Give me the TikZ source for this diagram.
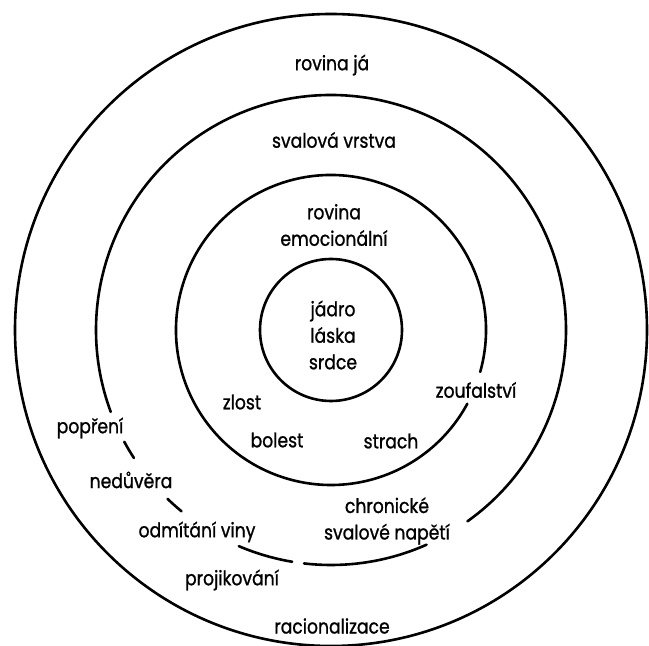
\documentclass[tikz,border=0pt]{standalone}
\usepackage{fontspec}
\setmainfont[FakeStretch=0.86,FakeBold=1]{Poppins}
\begin{document}
\begin{tikzpicture}[x=1pt,y=1pt,
  ring/.style={line width=2.6pt, line cap=round},
  lbl/.style={font=\fontsize{20}{26.5}\selectfont, inner sep=0pt, align=center}]
\useasboundingbox (0,0) rectangle (649,646);
% centre (image 331,330)
\coordinate (O) at (331,316);
% outer ring
\draw[ring] (O) circle (316pt);
% inner core ring
\draw[ring] (O) circle (71pt);
% emotional ring with gap at zoufalstvi
\draw[ring] ([shift={(-15.7:155pt)}]O) arc[start angle=-15.7, end angle=331.6, radius=155pt];
% muscular ring, broken
\draw[ring] ([shift={(-54.5:235pt)}]O) arc[start angle=-54.5, end angle=200.4, radius=235pt];
\draw[ring] ([shift={(208.4:235pt)}]O) arc[start angle=208.4, end angle=213, radius=235pt];
\draw[ring] ([shift={(225.9:235pt)}]O) arc[start angle=225.9, end angle=230.5, radius=235pt];
\draw[ring] ([shift={(246.9:235pt)}]O) arc[start angle=246.9, end angle=260.5, radius=235pt];
\draw[ring] ([shift={(263.4:235pt)}]O) arc[start angle=263.4, end angle=294, radius=235pt];
% labels
\node[lbl] (ja) at (332,581) {rovina já};
\node[lbl] (sval) at (334,506) {svalová vrstva};
\node[lbl] (emo) at (334,421) {rovina\\emocionální};
\node[lbl] (jadro) at (333,311) {jádro\\láska\\srdce};
\node[lbl] (zouf) at (476,256) {zoufalství};
\node[lbl] (zlost) at (242,244) {zlost};
\node[lbl] (popr) at (90,218) {popření};
\node[lbl] (bol) at (277,206) {bolest};
\node[lbl] (strach) at (391,205) {strach};
\node[lbl] (nedu) at (131,166) {nedůvěra};
\node[lbl] (chron) at (387,125) {chronické\\svalové napětí};
\node[lbl] (odm) at (197,114) {odmítání viny};
\node[lbl] (proj) at (232,66) {projikování};
\node[lbl] (rac) at (332,20) {racionalizace};
\end{tikzpicture}
\end{document}
